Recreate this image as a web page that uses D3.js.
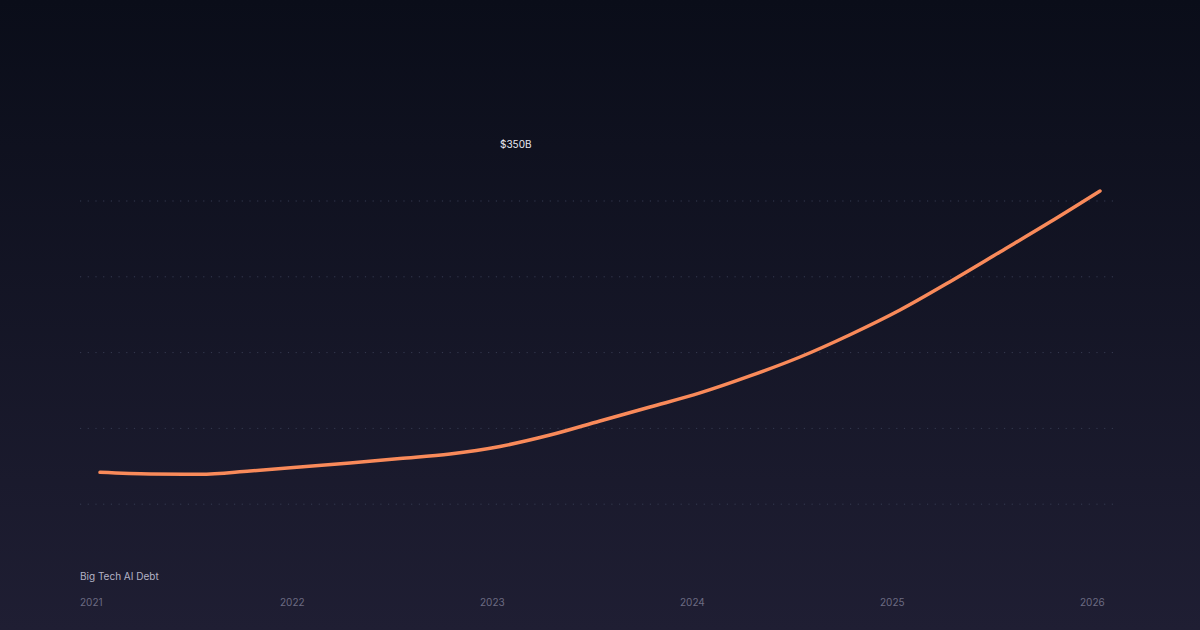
<!DOCTYPE html>
<html>
<head>
<meta charset="utf-8">
<script src="https://cdn.jsdelivr.net/npm/d3@7"></script>
<style>
  html, body { margin: 0; padding: 0; background: #0b0e1b; }
  svg { display: block; font-family: Inter, "Noto Sans", sans-serif; }
</style>
</head>
<body>
<div id="container"></div>
<script>
/* CONSTANTS AND GLOBALS */
const width = 1200,
  height = 630

// DATA (quarterly, $B)
const quarters = d3.range(0, 21).map(i => 2021 + i / 4)
const debt = [71, 69.9, 69.7, 71.9, 74.5, 77.2, 80.1, 83.1, 88.1, 95.6, 104.9,
  114.1, 123.4, 134.6, 147.1, 161.8, 178.1, 196.8, 216.4, 236.1, 256.6]
const years = [2021, 2022, 2023, 2024, 2025, 2026]
const gridValues = [50, 100, 150, 200, 250]
const title = "Big Tech AI Debt"
const callout = "$350B"

const data = quarters.map((t, i) => ({ time: t, value: debt[i] }))

// SCALES
const xScale = d3.scaleLinear()
  .domain([2021, 2026])
  .range([100, 1100])

const yScale = d3.scaleLinear()
  .domain([0, 250])
  .range([580, 201])

// CREATE SVG ELEMENT
const svg = d3.select("#container")
  .append("svg")
  .attr("width", width)
  .attr("height", height)

const defs = svg.append("defs")
const grad = defs.append("linearGradient")
  .attr("id", "bg")
  .attr("x1", 0).attr("y1", 0).attr("x2", 0).attr("y2", 1)
grad.append("stop").attr("offset", "0%").attr("stop-color", "#0a0d19")
grad.append("stop").attr("offset", "100%").attr("stop-color", "#1f1e33")

svg.append("rect")
  .attr("width", width)
  .attr("height", height)
  .attr("fill", "url(#bg)")

// gridlines
svg.selectAll("line.grid")
  .data(gridValues)
  .join("line")
  .attr("class", "grid")
  .attr("x1", 80)
  .attr("x2", 1115)
  .attr("y1", d => yScale(d))
  .attr("y2", d => yScale(d))
  .attr("stroke", "#353a50")
  .attr("stroke-width", 1)
  .attr("stroke-dasharray", "1.2,6.5")

// x labels
svg.selectAll("text.year")
  .data(years)
  .join("text")
  .attr("class", "year")
  .attr("x", d => xScale(d) - 20)
  .attr("y", 606)
  .attr("fill", "#6c6b82")
  .style("font-size", "10px")
  .text(d => d)

svg.append("text")
  .attr("x", 80)
  .attr("y", 580)
  .attr("fill", "#b4b3c6")
  .style("font-size", "10px")
  .text(title)

svg.append("text")
  .attr("x", 500)
  .attr("y", 148)
  .attr("fill", "#e8e8f0")
  .style("font-size", "10px")
  .text(callout)

// LINE GENERATOR FUNCTION
const lineGen = d3.line()
  .x(d => xScale(d.time))
  .y(d => yScale(d.value))
  .curve(d3.curveMonotoneX)

// DRAW LINE
svg.selectAll("path.line")
  .data([data])
  .join("path")
  .attr("class", "line")
  .attr("fill", "none")
  .attr("stroke", "#f98a5a")
  .attr("stroke-width", 3.5)
  .attr("stroke-linecap", "round")
  .attr("d", d => lineGen(d))
</script>
</body>
</html>
